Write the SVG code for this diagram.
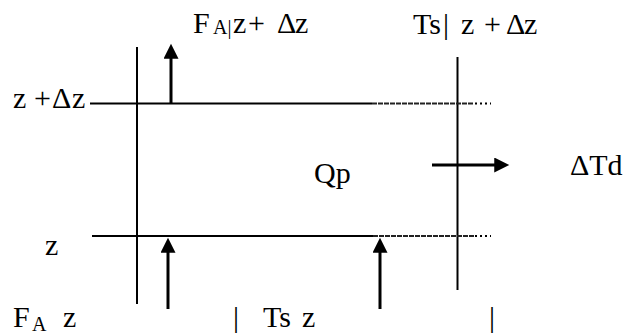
<svg xmlns="http://www.w3.org/2000/svg" width="624" height="334" viewBox="0 0 624 334">
<style>
.t{font-family:"Liberation Serif","Times New Roman","DejaVu Serif",serif;font-size:30px;fill:#000}
.s{font-size:20px}
.ln{stroke:#000;stroke-width:2;fill:none}
.dn{stroke:#222;stroke-width:2;stroke-dasharray:5 1;fill:none}
.dt{stroke:#000;stroke-width:2;stroke-dasharray:2 3;fill:none}
.ar{stroke:#000;stroke-width:3;fill:none;marker-end:url(#ah)}
</style>
<defs>
<marker id="ah" viewBox="0 0 16 16" refX="4" refY="8" markerWidth="16" markerHeight="15" orient="auto" markerUnits="userSpaceOnUse">
<path d="M0,0 L16,8 L0,16 z" fill="#000"/>
</marker>
</defs>
<rect width="624" height="334" fill="#fff"/>
<g id="connectors">
<line class="ln" x1="137" y1="47" x2="137" y2="304"/>
<line class="ln" x1="457.5" y1="57" x2="457.5" y2="290"/>
<line class="ln" x1="90" y1="103.5" x2="372" y2="103.5"/>
<line class="dn" x1="372" y1="103.5" x2="474" y2="103.5"/>
<line class="dt" x1="475" y1="103.5" x2="491" y2="103.5"/>
<line class="ln" x1="92" y1="236" x2="373" y2="236"/>
<line class="dn" x1="373" y1="236" x2="474" y2="236"/>
<line class="dt" x1="475" y1="236" x2="491" y2="236"/>
<line class="ar" x1="171" y1="103" x2="171" y2="55"/>
<line class="ar" x1="168" y1="309" x2="168" y2="249"/>
<line class="ar" x1="380" y1="309" x2="380" y2="249"/>
<line class="ar" x1="432" y1="165" x2="498" y2="165"/>
</g>
<g id="label-fa-top"><text class="t" y="33"><tspan x="193">F</tspan><tspan class="s" x="213" y="34">A|</tspan><tspan x="233" y="33">z</tspan><tspan x="248">+</tspan><tspan x="277">Δ</tspan><tspan x="295">z</tspan></text></g>
<g id="label-ts-top"><text class="t" y="34"><tspan x="413">Ts</tspan><tspan x="443">|</tspan><tspan x="461">z</tspan><tspan x="484">+</tspan><tspan x="506">Δ</tspan><tspan x="524">z</tspan></text></g>
<g id="label-z-dz"><text class="t" y="108"><tspan x="13">z</tspan><tspan x="34">+</tspan><tspan x="52">Δ</tspan><tspan x="72">z</tspan></text></g>
<g id="label-z"><text class="t" x="45" y="255">z</text></g>
<g id="label-qp"><text class="t" x="314" y="183">Qp</text></g>
<g id="label-dtd"><text class="t" x="570" y="175">ΔTd</text></g>
<g id="label-fa-bottom"><text class="t" y="327"><tspan x="13">F</tspan><tspan class="s" x="32" y="331">A</tspan><tspan x="63" y="327">z</tspan></text></g>
<g id="label-ts-bottom"><text class="t" y="327"><tspan x="233">|</tspan><tspan x="263">Ts</tspan><tspan x="302">z</tspan><tspan x="489">|</tspan></text></g>
</svg>
